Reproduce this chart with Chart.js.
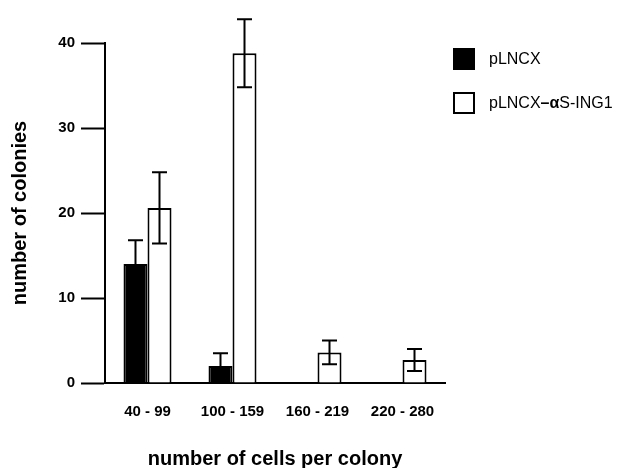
<!DOCTYPE html>
<html>
<head>
<meta charset="utf-8">
<script src="https://cdn.jsdelivr.net/npm/chart.js@4/dist/chart.umd.min.js"></script>
<style>
html,body{margin:0;padding:0;background:#fff;}
#wrap{width:631px;height:468px;position:relative;}
</style>
</head>
<body>
<div id="wrap"><canvas id="c" width="631" height="468"></canvas></div>
<script>
const categories = ["40 - 99", "100 - 159", "160 - 219", "220 - 280"];
const seriesNames = ["pLNCX", "pLNCX\u2013\u03b1S-ING1"];
const pLNCX = [14.0, 2.0, 0, 0];
const pLNCXerr = [2.8, 1.5, 0, 0];
const asING1 = [20.6, 38.8, 3.6, 2.7];
const asING1err = [4.2, 4.0, 1.4, 1.3];
const yTicks = [0, 10, 20, 30, 40];

const errors = [pLNCXerr, asING1err];
const upperOnly = [true, false];
const font = 'Liberation Sans, Arial, Helvetica, sans-serif';

const errorBars = {
  id: 'errorBars',
  afterDatasetsDraw(chart) {
    const ctx = chart.ctx;
    const y = chart.scales.y;
    ctx.save();
    ctx.strokeStyle = '#000';
    ctx.lineWidth = 2;
    chart.data.datasets.forEach((ds, di) => {
      const meta = chart.getDatasetMeta(di);
      meta.data.forEach((bar, i) => {
        const e = errors[di][i];
        if (!e) return;
        const v = ds.data[i];
        const x = bar.x;
        const yTop = y.getPixelForValue(v + e);
        const yBot = upperOnly[di] ? y.getPixelForValue(v) : y.getPixelForValue(v - e);
        const cap = 7.5;
        ctx.beginPath();
        ctx.moveTo(x, yTop); ctx.lineTo(x, yBot);
        ctx.moveTo(x - cap, yTop); ctx.lineTo(x + cap, yTop);
        if (!upperOnly[di]) { ctx.moveTo(x - cap, yBot); ctx.lineTo(x + cap, yBot); }
        ctx.stroke();
      });
    });
    ctx.restore();
  }
};

// legend drawn next to the plot; the label is split so the "–α" part is bold as in the figure
const customLegend = {
  id: 'customLegend',
  afterDraw(chart) {
    const ctx = chart.ctx;
    const left = chart.chartArea.right + 8;
    const top0 = 48;
    const gap = 44;
    const box = 22;
    ctx.save();
    chart.data.datasets.forEach((ds, i) => {
      const top = top0 + i * gap;
      ctx.fillStyle = ds.backgroundColor;
      ctx.fillRect(left, top, box, box);
      ctx.strokeStyle = ds.borderColor;
      ctx.lineWidth = 2;
      ctx.strokeRect(left + 1, top + 1, box - 2, box - 2);
      const label = ds.label;
      let x = left + box + 14;
      const yMid = top + box / 2 + 1;
      ctx.fillStyle = '#000';
      ctx.textBaseline = 'middle';
      const m = label.indexOf('\u2013');
      const parts = m < 0 ? [[label, 'normal']] :
        [[label.slice(0, m), 'normal'], [label.slice(m, m + 2), 'bold'], [label.slice(m + 2), 'normal']];
      parts.forEach(([t, w]) => {
        ctx.font = w + ' 16px ' + font;
        ctx.fillText(t, x, yMid);
        x += ctx.measureText(t).width;
      });
    });
    ctx.restore();
  }
};

new Chart(document.getElementById('c'), {
  type: 'bar',
  data: {
    labels: categories,
    datasets: [
      { label: seriesNames[0], data: pLNCX, backgroundColor: '#000', borderColor: '#000', borderWidth: 2 },
      { label: seriesNames[1], data: asING1, backgroundColor: '#fff', borderColor: '#000', borderWidth: 2 }
    ]
  },
  plugins: [errorBars, customLegend],
  options: {
    responsive: false,
    animation: false,
    devicePixelRatio: 1,
    layout: { padding: { left: 0, right: 186, top: 43, bottom: 0 } },
    datasets: { bar: { categoryPercentage: 0.565, barPercentage: 1.0 } },
    plugins: {
      tooltip: { enabled: false },
      legend: { display: false }
    },
    scales: {
      x: {
        afterFit(s) { s.height = 85; },
        grid: { display: true, drawOnChartArea: false, drawTicks: false },
        border: { display: true, color: '#000', width: 2 },
        ticks: { color: '#000', padding: 20, font: { family: font, size: 15, weight: 'bold' } },
        title: { display: true, text: 'number of cells per colony', color: '#000', padding: { top: 0, bottom: -3 }, font: { family: font, size: 20, weight: 'bold' } }
      },
      y: {
        min: 0, max: 40,
        afterFit(s) { s.width = 105; },
        afterBuildTicks(s) { s.ticks = yTicks.map(v => ({ value: v })); },
        grid: { display: true, drawOnChartArea: false, drawTicks: true, tickLength: 24, tickWidth: 2, tickColor: '#000' },
        border: { display: true, color: '#000', width: 2 },
        ticks: { color: '#000', padding: 6, font: { family: font, size: 15, weight: 'bold' } },
        title: { display: true, text: 'number of colonies', color: '#000', padding: { top: 8, bottom: 0 }, font: { family: font, size: 20, weight: 'bold' } }
      }
    }
  }
});
</script>
</body>
</html>
